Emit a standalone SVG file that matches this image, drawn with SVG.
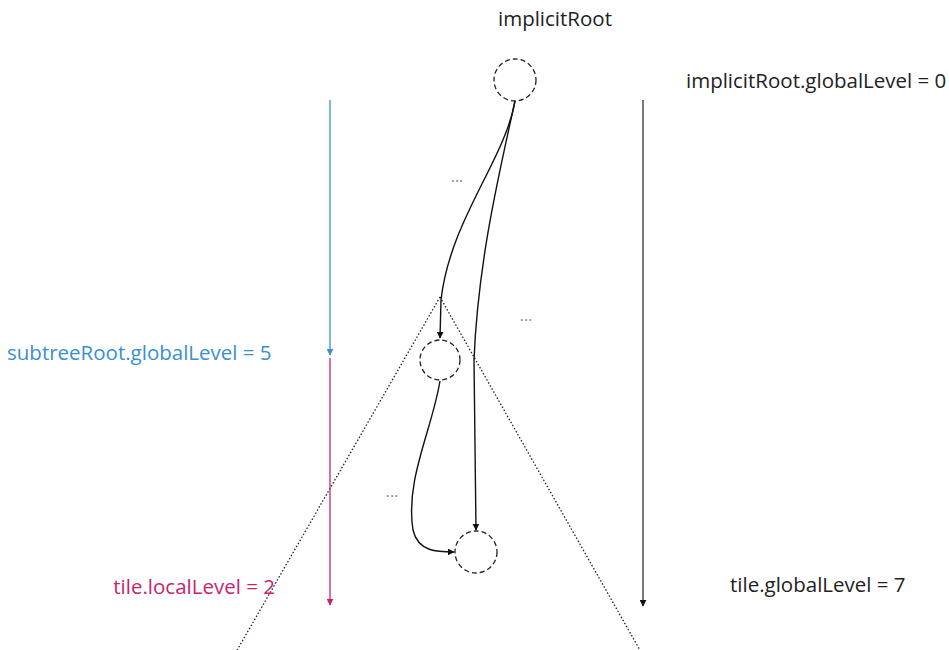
<svg xmlns="http://www.w3.org/2000/svg" width="949" height="650" viewBox="0 0 949 650">
<defs>
<style>
.t{font-family:"Open Sans","Noto Sans","Liberation Sans",sans-serif;font-size:20.5px;fill:#222}
.node{fill:none;stroke:#222;stroke-width:1.3;stroke-dasharray:5 3}
.edge{fill:none;stroke:#111;stroke-width:1.4}
.tri{fill:none;stroke:#222;stroke-width:1.3;stroke-dasharray:1.5 2}
.dots{font-family:"Open Sans","Liberation Sans",sans-serif;font-size:16px;fill:#888}
</style>
<marker id="ah" viewBox="0 0 10 10" refX="9" refY="5" markerWidth="7" markerHeight="7" orient="auto" markerUnits="userSpaceOnUse"><path d="M0,0 L10,5 L0,10 z" fill="#111"/></marker>
<marker id="ahb" viewBox="0 0 10 10" refX="9" refY="5" markerWidth="7" markerHeight="7" orient="auto" markerUnits="userSpaceOnUse"><path d="M0,0 L10,5 L0,10 z" fill="#3a8fd0"/></marker>
<marker id="ahr" viewBox="0 0 10 10" refX="9" refY="5" markerWidth="7" markerHeight="7" orient="auto" markerUnits="userSpaceOnUse"><path d="M0,0 L10,5 L0,10 z" fill="#c8246e"/></marker>
</defs>
<rect width="949" height="650" fill="#fff"/>
<g id="subtree-triangle"><path class="tri" d="M440,297 L236,652 M440,297 L641,652"/></g>
<g id="connectors">
<path class="edge" d="M515,101 C505,160 450,220 441,300 L440,338" marker-end="url(#ah)"/>
<path class="edge" d="M515,101 C500,170 478,260 474,360 L476,530" marker-end="url(#ah)"/>
<path class="edge" d="M440,381 C432,430 405,480 413,530 C418,552 438,552 454,552" marker-end="url(#ah)"/>
<path d="M330,100 L330,355" stroke="#3a8fd0" stroke-width="1.3" fill="none" marker-end="url(#ahb)"/>
<path d="M330,358 L330,605" stroke="#c8246e" stroke-width="1.3" fill="none" marker-end="url(#ahr)"/>
<path d="M643,100 L643,606" stroke="#222" stroke-width="1.2" fill="none" marker-end="url(#ah)"/>
</g>
<g id="implicitRoot"><circle class="node" cx="515" cy="80" r="21"/><text class="t" x="498" y="26">implicitRoot</text></g>
<g id="subtreeRoot"><circle class="node" cx="440" cy="360" r="20"/></g>
<g id="tile"><circle class="node" cx="476" cy="552" r="21"/></g>
<g id="labels">
<text class="t" x="686" y="88">implicitRoot.globalLevel = 0</text>
<text class="t" x="7" y="360" style="fill:#3a8fd0">subtreeRoot.globalLevel = 5</text>
<text class="t" x="275" y="594" text-anchor="end" style="fill:#c8246e">tile.localLevel = 2</text>
<text class="t" x="730" y="592">tile.globalLevel = 7</text>
<text class="dots" x="457" y="182" text-anchor="middle">...</text>
<text class="dots" x="526" y="321" text-anchor="middle">...</text>
<text class="dots" x="392" y="497" text-anchor="middle">...</text>
</g>
</svg>
